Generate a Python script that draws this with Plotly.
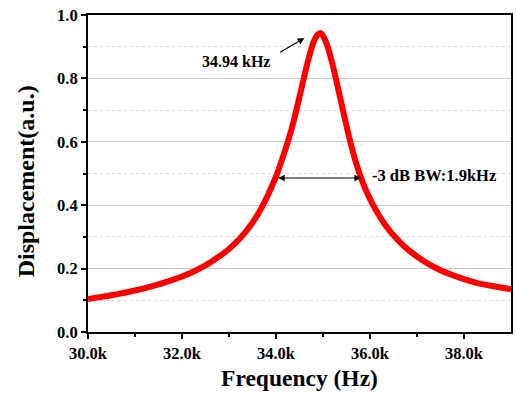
import plotly.graph_objects as go

# Frequency (kHz) and displacement (a.u.)
freq_khz = [30.0, 30.25, 30.5, 30.75, 31.0, 31.25, 31.5, 31.75, 32.0, 32.25,
            32.5, 32.75, 33.0, 33.25, 33.5, 33.6, 33.7, 33.8, 33.9, 34.0,
            34.1, 34.2, 34.3, 34.4, 34.5, 34.6, 34.7, 34.8, 34.9, 34.95,
            35.0, 35.1, 35.2, 35.3, 35.4, 35.5, 35.6, 35.7, 35.8, 35.9,
            36.0, 36.1, 36.2, 36.3, 36.4, 36.5, 36.75, 37.0, 37.25, 37.5,
            37.75, 38.0, 38.25, 38.5, 38.75, 39.0]
displacement = [0.104, 0.110, 0.116, 0.123, 0.131, 0.140, 0.150, 0.162, 0.175, 0.191,
                0.210, 0.234, 0.262, 0.298, 0.345, 0.368, 0.394, 0.423, 0.456, 0.490,
                0.532, 0.576, 0.624, 0.680, 0.742, 0.806, 0.866, 0.915, 0.940, 0.943,
                0.934, 0.900, 0.846, 0.782, 0.716, 0.650, 0.588, 0.535, 0.490, 0.452,
                0.420, 0.391, 0.366, 0.343, 0.323, 0.305, 0.267, 0.238, 0.214, 0.195,
                0.180, 0.167, 0.156, 0.148, 0.141, 0.135]
freq_hz = [f * 1000 for f in freq_khz]

x_tickvals = [30000, 32000, 34000, 36000, 38000]
x_ticktext = ["30.0k", "32.0k", "34.0k", "36.0k", "38.0k"]
y_tickvals = [0.0, 0.2, 0.4, 0.6, 0.8, 1.0]
y_ticktext = ["0.0", "0.2", "0.4", "0.6", "0.8", "1.0"]

x_title = "Frequency (Hz)"
y_title = "Displacement(a.u.)"
peak_label = "34.94 kHz"
bw_label = "-3 dB BW:1.9kHz"
bw_left, bw_right, bw_level = 34013, 35808, 0.486

FONT = "Liberation Serif"

fig = go.Figure()
fig.add_trace(go.Scatter(
    x=freq_hz, y=displacement, mode="lines",
    line=dict(color="#ff0000", width=6, shape="spline", smoothing=0.6),
    showlegend=False, hoverinfo="skip",
))

# peak annotation
fig.add_annotation(
    x=34604, y=0.927, ax=34055, ay=0.880, axref="x", ayref="y", xref="x", yref="y",
    text="", showarrow=True, arrowhead=2, arrowsize=1.2, arrowwidth=1.1, arrowcolor="black",
)
fig.add_annotation(
    x=33150, y=0.852, xref="x", yref="y", text="<b>" + peak_label + "</b>",
    showarrow=False, font=dict(family=FONT, size=16, color="black"),
)
# bandwidth double arrow
fig.add_annotation(
    x=bw_right, y=bw_level, ax=bw_left, ay=bw_level, axref="x", ayref="y", xref="x", yref="y",
    text="", showarrow=True, arrowhead=2, startarrowhead=2, arrowside="end+start",
    arrowsize=1.2, startarrowsize=1.2, arrowwidth=1.1, arrowcolor="black",
)
fig.add_annotation(
    x=37370, y=0.494, xref="x", yref="y", text="<b>" + bw_label + "</b>",
    showarrow=False, font=dict(family=FONT, size=16.5, color="black"),
)
# y-axis title (placed as in the reference)
fig.add_annotation(
    x=-0.146, y=0.476, xref="paper", yref="paper", xanchor="center", yanchor="middle",
    text="<b>" + y_title + "</b>", textangle=-90, showarrow=False,
    font=dict(family=FONT, size=24, color="black"),
)

fig.update_layout(
    width=516, height=397,
    margin=dict(l=88, r=3, t=15, b=65),
    paper_bgcolor="white", plot_bgcolor="white",
    font=dict(family=FONT, color="black"),
)
fig.update_xaxes(
    range=[30000, 39000],
    tickvals=x_tickvals, ticktext=["<b>%s</b>" % t for t in x_ticktext],
    tickfont=dict(family=FONT, size=16.5, color="black"),
    ticks="outside", ticklen=5, tickwidth=1.5, tickcolor="black",
    minor=dict(tickvals=[31000, 33000, 35000, 37000], ticks="outside", ticklen=3,
               tickwidth=1.5, tickcolor="black", showgrid=False),
    showgrid=False, zeroline=False,
    showline=True, linewidth=2, linecolor="black", mirror=True,
    title=dict(text="<b>" + x_title + "</b>", font=dict(family=FONT, size=23.5, color="black"), standoff=8),
)
fig.update_yaxes(
    range=[0, 1.0],
    tickvals=y_tickvals, ticktext=["<b>%s</b>" % t for t in y_ticktext],
    tickfont=dict(family=FONT, size=16.5, color="black"),
    ticks="outside", ticklen=5, tickwidth=1.5, tickcolor="black",
    showgrid=True, gridcolor="#c8c8c8", gridwidth=1,
    minor=dict(tickvals=[0.1, 0.3, 0.5, 0.7, 0.9], ticks="outside", ticklen=3,
               tickwidth=1.5, tickcolor="black", showgrid=True, gridcolor="#dcdcdc",
               griddash="dot", gridwidth=1),
    zeroline=False,
    showline=True, linewidth=2, linecolor="black", mirror=True,
)

fig.write_html("out.html")
